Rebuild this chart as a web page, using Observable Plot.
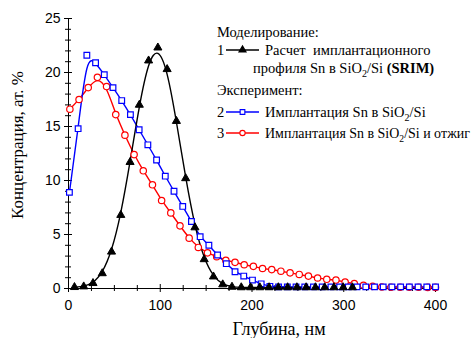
<!DOCTYPE html>
<html><head><meta charset="utf-8">
<script src="https://cdn.jsdelivr.net/npm/d3@7"></script>
<script src="https://cdn.jsdelivr.net/npm/@observablehq/plot@0.6"></script>
<style>body{margin:0;background:#fff} svg{display:block}</style>
</head><body><div id="chart"></div>
<script>
// SRIM simulation (1)
const srimDepth = [6.5, 16.6, 26.7, 36.8, 46.9, 57.0, 67.1, 77.2, 87.3, 97.4, 107.5, 117.6, 127.7, 137.8, 147.9, 158.0, 168.1, 178.2, 188.3, 198.4, 208.5, 218.6, 228.7, 238.8, 248.9, 259.0, 269.1, 279.2, 289.3, 299.4, 309.5];
const srimConc = [0.12, 0.18, 0.49, 1.4, 3.4, 6.8, 11.7, 17.0, 21.1, 22.3, 20.3, 15.5, 10.2, 5.65, 2.7, 1.1, 0.37, 0.15, 0.1, 0.1, 0.1, 0.1, 0.1, 0.1, 0.1, 0.1, 0.1, 0.1, 0.1, 0.1, 0.1];
// Implantation Sn in SiO2/Si (2)
const implDepth = [1, 10.5, 20, 29.5, 39, 48.5, 58, 67.5, 77, 86.5, 96, 105.5, 115, 124.5, 134, 143.5, 153, 162.5, 172, 181.5, 191, 200.5, 210, 219.5, 229, 238.5, 248, 257.5, 267, 276.5, 286, 295.5, 305, 314.5, 324, 333.5, 343, 352.5, 362, 371.5, 381, 390.5, 400];
const implConc = [8.9, 14.8, 21.6, 20.9, 19.8, 18.6, 17.4, 16.1, 14.7, 13.3, 11.9, 10.4, 9.0, 7.6, 6.2, 4.8, 4.0, 3.1, 2.3, 1.55, 1.15, 0.78, 0.43, 0.2, 0.15, 0.15, 0.15, 0.15, 0.15, 0.15, 0.15, 0.15, 0.15, 0.15, 0.15, 0.15, 0.15, 0.15, 0.15, 0.15, 0.15, 0.15, 0.15];
// Implantation + anneal (3)
const annealDepth = [1.5, 11.5, 21.5, 31.5, 41.5, 51.5, 61.5, 71.5, 81.5, 91.5, 101.5, 111.5, 121.5, 131.5, 141.5, 151.5, 161.5, 171.5, 181.5, 191.5, 201.5, 211.5, 221.5, 231.5, 241.5, 251.5, 261.5, 271.5, 281.5, 291.5, 301.5, 311.5, 321.5, 331.5, 341.5, 351.5, 361.5, 371.5, 381.5, 391.5, 400];
const annealConc = [16.6, 17.5, 18.6, 19.55, 18.7, 16.1, 14.2, 12.4, 10.9, 9.6, 8.15, 7.0, 5.8, 4.66, 3.8, 3.3, 2.95, 2.6, 2.42, 2.2, 2.05, 1.85, 1.75, 1.6, 1.45, 1.3, 1.15, 0.97, 0.85, 0.78, 0.6, 0.45, 0.3, 0.2, 0.14, 0.12, 0.12, 0.12, 0.12, 0.1, 0.1];

const xTicks = [0, 100, 200, 300, 400];
const xMinor = [25, 50, 75, 125, 150, 175, 225, 250, 275, 325, 350, 375];
const yTicks = [0, 5, 10, 15, 20, 25];
const yMinor = [1, 2, 3, 4, 6, 7, 8, 9, 11, 12, 13, 14, 16, 17, 18, 19, 21, 22, 23, 24];

const xTitle = "Глубина, нм";
const yTitle = "Концентрация, ат. %";
const legendHead1 = "Моделирование:";
const legendHead2 = "Эксперимент:";
const legend1a = "Расчет  имплантационного";
const legend1b = ["профиля Sn в SiO", "2", "/Si ", "(SRIM)"];
const legend2 = ["Имплантация Sn в SiO", "2", "/Si"];
const legend3 = ["Имплантация Sn в SiO", "2", "/Si и отжиг"];

const srim = srimDepth.map((d, i) => ({x: d, y: srimConc[i]}));
const impl = implDepth.map((d, i) => ({x: d, y: implConc[i]}));
const anneal = annealDepth.map((d, i) => ({x: d, y: annealConc[i]}));

const plot = Plot.plot({
  width: 476, height: 338,
  marginLeft: 68, marginRight: 41, marginTop: 18, marginBottom: 50,
  style: {fontFamily: "'Liberation Sans', Arial, sans-serif", fontSize: "14px", color: "#000", background: "#fff", overflow: "visible"},
  x: {domain: [0, 400]},
  y: {domain: [0, 25]},
  marks: [
    Plot.ruleY([0], {stroke: "#000", strokeWidth: 1}),
    Plot.ruleX([0], {stroke: "#000", strokeWidth: 1}),
    Plot.axisX({ticks: xTicks, tickSize: 4, tickPadding: 8, label: null, tickFormat: d => String(d)}),
    Plot.axisX({ticks: xTicks, tickSize: -4, fill: "none", label: null}),
    Plot.axisX({ticks: xMinor, tickSize: 3, fill: "none", label: null}),
    Plot.axisX({ticks: xMinor, tickSize: -3, fill: "none", label: null}),
    Plot.axisY({ticks: yTicks, tickSize: 4, tickPadding: 4, label: null, tickFormat: d => String(d)}),
    Plot.axisY({ticks: yTicks, tickSize: -4, fill: "none", label: null}),
    Plot.axisY({ticks: yMinor, tickSize: 3, fill: "none", label: null}),
    Plot.axisY({ticks: yMinor, tickSize: -3, fill: "none", label: null}),
    Plot.line(anneal, {x: "x", y: "y", stroke: "#ff0000", strokeWidth: 1.4, curve: "basis"}),
    Plot.line(impl, {x: "x", y: "y", stroke: "#0000ff", strokeWidth: 1.4, curve: "basis"}),
    Plot.line(srim, {x: "x", y: "y", stroke: "#000", strokeWidth: 1.4, curve: "basis"}),
    Plot.dot(anneal, {x: "x", y: "y", r: 3.2, fill: "#fff", stroke: "#ff0000", strokeWidth: 1.2}),
    Plot.dot(impl, {x: "x", y: "y", symbol: "square", r: 3.2, fill: "#fff", stroke: "#0000ff", strokeWidth: 1.2}),
    Plot.dot(srim, {x: "x", y: "y", symbol: "triangle", r: 3, fill: "#000", stroke: "#000", strokeWidth: 1})
  ]
});
document.getElementById("chart").appendChild(plot);

const svg = d3.select(plot);
const serif = "'Liberation Serif', 'Times New Roman', serif";
svg.append("text").attr("x", 279).attr("y", 334.5).attr("text-anchor", "middle")
  .attr("font-family", serif).attr("font-size", 18).attr("fill", "#000").text(xTitle);
svg.append("text").attr("transform", "translate(23,145) rotate(-90)").attr("text-anchor", "middle")
  .attr("font-family", serif).attr("font-size", 17).attr("fill", "#000").text(yTitle);

const g = svg.append("g").attr("font-family", serif).attr("font-size", 14.5).attr("fill", "#000")
  .attr("text-anchor", "start").style("white-space", "pre");
function subText(x, y, parts, boldLast, len) {
  const t = g.append("text").attr("x", x).attr("y", y);
  if (len) t.attr("textLength", len).attr("lengthAdjust", "spacingAndGlyphs");
  t.append("tspan").text(parts[0]);
  t.append("tspan").attr("dy", 4).attr("font-size", 10).text(parts[1]);
  t.append("tspan").attr("dy", -4).text(parts[2]);
  if (parts[3]) t.append("tspan").attr("font-weight", boldLast ? "bold" : null).text(parts[3]);
}
g.append("text").attr("x", 217).attr("y", 36.5).text(legendHead1);
g.append("text").attr("x", 217).attr("y", 54.5).text("1");
g.append("text").attr("x", 265).attr("y", 54.5).text(legend1a);
subText(253, 72.5, legend1b, true);
g.append("text").attr("x", 217).attr("y", 95).text(legendHead2);
g.append("text").attr("x", 217).attr("y", 116.5).text("2");
subText(265, 116.5, legend2);
g.append("text").attr("x", 217).attr("y", 137.5).text("3");
subText(265, 137.5, legend3, false, 205);

const samples = [
  {y: 50, color: "#000", sym: d3.symbolTriangle, fill: "#000", size: 22},
  {y: 112, color: "#0000ff", sym: d3.symbolSquare, fill: "#fff", size: 22},
  {y: 133, color: "#ff0000", sym: d3.symbolCircle, fill: "#fff", size: 22}
];
for (const s of samples) {
  svg.append("line").attr("x1", 226).attr("x2", 259).attr("y1", s.y).attr("y2", s.y)
    .attr("stroke", s.color).attr("stroke-width", 1.4);
  svg.append("path").attr("d", d3.symbol(s.sym, s.size)()).attr("transform", `translate(242.5,${s.y})`)
    .attr("fill", s.fill).attr("stroke", s.color).attr("stroke-width", 1.1);
}
</script>
</body></html>
